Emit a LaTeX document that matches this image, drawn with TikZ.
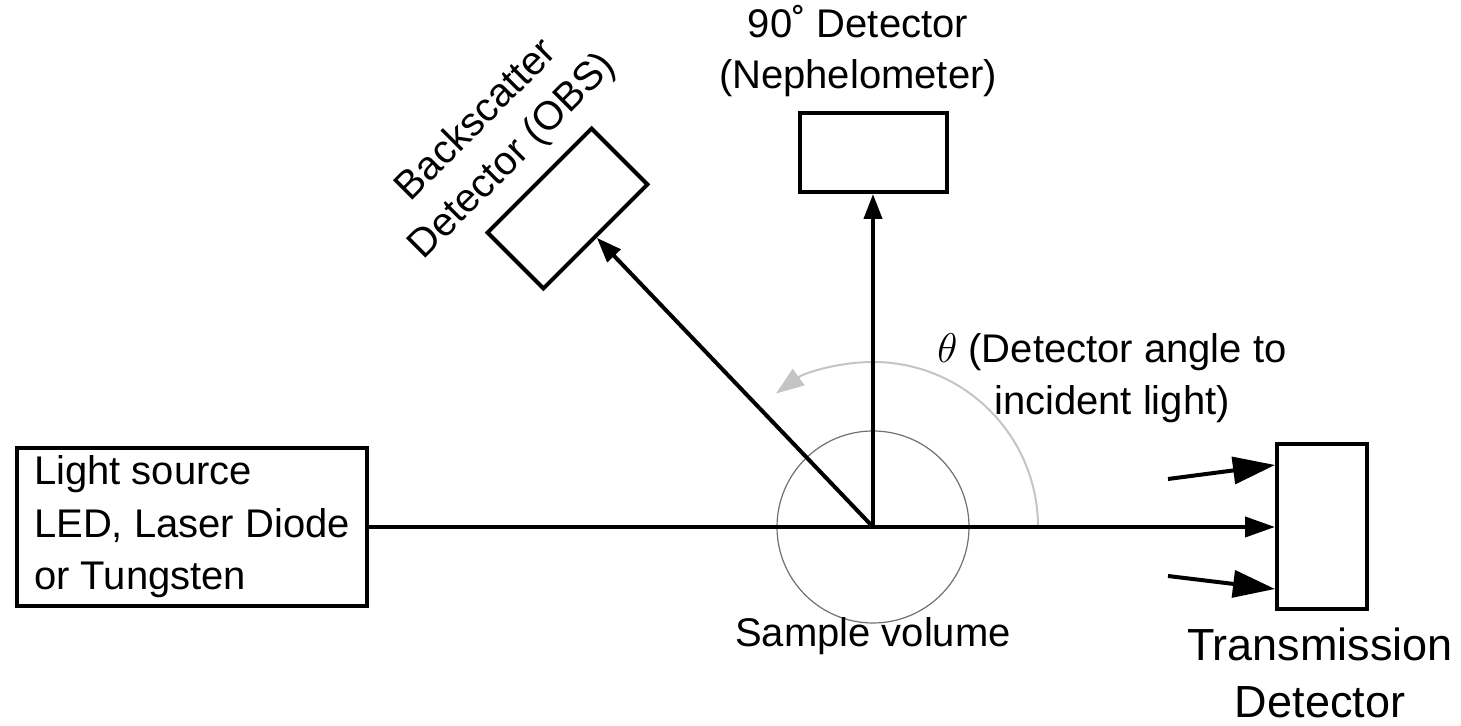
\documentclass[tikz,border=0pt]{standalone}
\usepackage{fontspec}
\setmainfont{Liberation Sans}
\usetikzlibrary{arrows.meta,calc}
\definecolor{arcgray}{HTML}{C4C4C4}
\definecolor{circgray}{HTML}{707070}
\begin{document}
\begin{tikzpicture}[x=0.5pt,y=0.5pt,
  detbox/.style={draw,line width=2pt,minimum width=73.5pt,minimum height=39.5pt,inner sep=0pt},
  ray/.style={line width=2pt},
  lbl/.style={font=\fontsize{20}{25.5}\selectfont,align=center,inner sep=0pt},
  tipS/.style={-{Triangle[length=12.5pt,width=9pt]}},
  tipM/.style={-{Triangle[length=15pt,width=10pt]}},
  tipL/.style={-{Triangle[length=21pt,width=13.5pt]}},
  arcline/.style={draw=arcgray,line width=1pt,-{Triangle[length=14pt,width=10pt]}}
]
\useasboundingbox (0,0) rectangle (1461,726);

\node[draw,line width=2pt,minimum width=175pt,minimum height=79pt,inner sep=0pt,
      align=left,font=\fontsize{20}{26.25}\selectfont] (src) at (192,199)
  {Light source\\LED, Laser Diode\\or Tungsten};

\coordinate (O) at (873,199);
\node[draw=circgray,line width=0.6pt,circle,minimum size=96pt,inner sep=0pt] (sv) at (O) {};

\node[detbox] (nd) at (873,573.5) {};
\node[detbox,rotate=45] (bd) at (567.5,517.5) {};
\node[draw,line width=2pt,minimum width=45pt,minimum height=82.5pt,inner sep=0pt] (tdet) at (1322,199) {};

\draw[arcline] ($(O)+(82.5pt,0)$) arc[start angle=0,end angle=126,radius=82.5pt];

\draw[ray,tipS] (O) -- (nd.south);
\draw[ray,tipS] (O) -- (bd.south);
\draw[ray,tipM] (src.east) -- (tdet.west);

\coordinate (t1) at (1168,247);
\coordinate (t3) at (1168,150);
\draw[ray,tipL] (t1) -- ([yshift=31pt]tdet.west);
\draw[ray,tipL] (t3) -- ([yshift=-31pt]tdet.west);

\node[lbl,anchor=base] (ndl) at (858,637) {90˚ Detector\\(Nephelometer)};
\node[lbl,rotate=45] (bdl) at (495,587) {Backscatter\\Detector (OBS)};
\node[lbl,font=\fontsize{20}{26}\selectfont,anchor=base] (thl) at (1112,311) {$\theta$ (Detector angle to\\incident light)};
\node[lbl,anchor=base] (svl) at (873,79) {Sample volume};
\node[lbl,font=\fontsize{22.5}{28.5}\selectfont,anchor=base] (tdl) at (1320,8) {Transmission\\Detector};
\end{tikzpicture}
\end{document}
